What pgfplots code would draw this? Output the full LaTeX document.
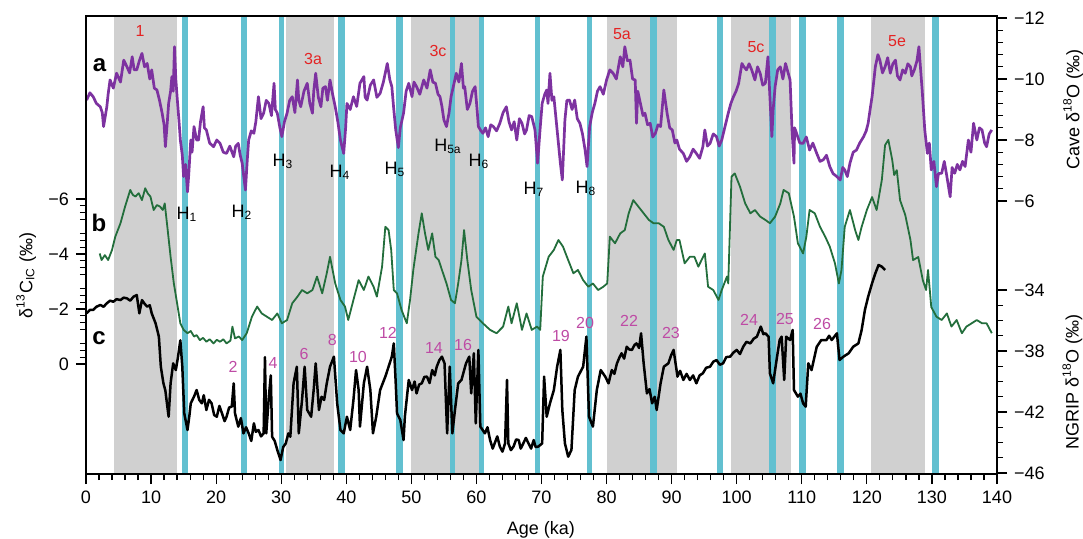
\documentclass[border=0pt]{standalone}
\usepackage{fontspec}
\setmainfont{Liberation Sans}
\usepackage{pgfplots}
\pgfplotsset{compat=1.18}
\definecolor{cavepurple}{RGB}{125,50,160}
\definecolor{cgreen}{RGB}{35,110,60}
\definecolor{bandgray}{RGB}{208,208,208}
\definecolor{barcyan}{RGB}{98,192,208}
\definecolor{lred}{RGB}{228,35,35}
\definecolor{lmag}{RGB}{190,75,165}
\begin{document}
\begin{tikzpicture}[font=\fontsize{9}{10}\selectfont]
\path[use as bounding box] (-43pt,-32pt) rectangle (498.5pt,237pt);
\pgfplotsset{every axis/.append style={width=455.5pt,height=228.5pt,scale only axis,
  xmin=0,xmax=140, tick align=outside, major tick length=5pt, minor tick length=3pt,
  /pgf/number format/assume math mode=true,
  every tick/.style={black,line width=0.6pt},
  axis line style={line width=0.7pt},
  ticklabel style={font=\fontsize{9}{10}\selectfont}}}
% ---------- base axis: bands, bars, x axis, labels
\begin{axis}[ymin=0,ymax=457, ytick=\empty, xtick={0,10,...,140}, minor x tick num=4,
  xtick pos=left, axis on top, clip=false]
\fill[bandgray] (axis cs:4.35,0) rectangle (axis cs:13.94,457);
\fill[bandgray] (axis cs:30.74,0) rectangle (axis cs:38.11,457);
\fill[bandgray] (axis cs:49.95,0) rectangle (axis cs:60.55,457);
\fill[bandgray] (axis cs:80.07,0) rectangle (axis cs:90.82,457);
\fill[bandgray] (axis cs:99.12,0) rectangle (axis cs:108.34,457);
\fill[bandgray] (axis cs:120.64,0) rectangle (axis cs:128.94,457);
\fill[barcyan] (axis cs:14.71,0) rectangle (axis cs:15.63,457);
\fill[barcyan] (axis cs:23.82,0) rectangle (axis cs:24.70,457);
\fill[barcyan] (axis cs:29.61,0) rectangle (axis cs:30.47,457);
\fill[barcyan] (axis cs:38.77,0) rectangle (axis cs:39.80,457);
\fill[barcyan] (axis cs:47.64,0) rectangle (axis cs:48.67,457);
\fill[barcyan] (axis cs:55.94,0) rectangle (axis cs:56.71,457);
\fill[barcyan] (axis cs:60.44,0) rectangle (axis cs:61.21,457);
\fill[barcyan] (axis cs:69.05,0) rectangle (axis cs:69.82,457);
\fill[barcyan] (axis cs:77.04,0) rectangle (axis cs:77.81,457);
\fill[barcyan] (axis cs:86.68,0) rectangle (axis cs:87.71,457);
\fill[barcyan] (axis cs:96.93,0) rectangle (axis cs:97.94,457);
\fill[barcyan] (axis cs:105.01,0) rectangle (axis cs:106.04,457);
\fill[barcyan] (axis cs:109.57,0) rectangle (axis cs:110.60,457);
\fill[barcyan] (axis cs:115.46,0) rectangle (axis cs:116.49,457);
\fill[barcyan] (axis cs:130.06,0) rectangle (axis cs:131.14,457);
% panel letters
\node[font=\fontsize{12}{12}\selectfont\bfseries] at (axis cs:2.1,408) {a};
\node[font=\fontsize{12}{12}\selectfont\bfseries] at (axis cs:2.0,251) {b};
\node[font=\fontsize{12}{12}\selectfont\bfseries] at (axis cs:2.0,136) {c};
% red labels
\begin{scope}[every node/.style={text=lred,font=\fontsize{8}{9}\selectfont}]
\node at (axis cs:8.30,442) {1};
\node at (axis cs:34.89,414) {3a};
\node at (axis cs:54.10,422) {3c};
\node at (axis cs:82.37,439) {5a};
\node at (axis cs:102.97,426) {5c};
\node at (axis cs:124.64,432) {5e};
\end{scope}
% Heinrich labels
\begin{scope}[every node/.style={font=\fontsize{9}{10}\selectfont,inner sep=0pt}]
\node at (axis cs:15.52,259) {H\textsubscript{1}};
\node at (axis cs:23.97,261) {H\textsubscript{2}};
\node at (axis cs:30.28,312) {H\textsubscript{3}};
\node at (axis cs:39.03,301) {H\textsubscript{4}};
\node at (axis cs:47.49,304) {H\textsubscript{5}};
\node at (axis cs:55.63,327) {H\textsubscript{5a}};
\node at (axis cs:60.40,312) {H\textsubscript{6}};
\node at (axis cs:68.85,284) {H\textsubscript{7}};
\node at (axis cs:76.84,285) {H\textsubscript{8}};
\end{scope}
% GI numbers
\begin{scope}[every node/.style={text=lmag,font=\fontsize{8}{9}\selectfont,inner sep=0pt}]
\node at (axis cs:22.59,107) {2};
\node at (axis cs:28.74,111) {4};
\node at (axis cs:33.50,120) {6};
\node at (axis cs:37.87,134) {8};
\node at (axis cs:41.80,117) {10};
\node at (axis cs:46.41,141) {12};
\node at (axis cs:53.48,126) {14};
\node at (axis cs:57.94,129) {16};
\node at (axis cs:72.99,138) {19};
\node at (axis cs:76.69,151) {20};
\node at (axis cs:83.45,153) {22};
\node at (axis cs:89.90,141) {23};
\node at (axis cs:101.89,154) {24};
\node at (axis cs:107.42,155) {25};
\node at (axis cs:113.11,150) {26};
\end{scope}
% axis titles
\begin{scope}[every node/.style={font=\fontsize{9}{10}\selectfont}]
\node at (axis cs:69.9,-56) {Age (ka)};
\node[rotate=90] at (axis cs:151.7,364) {Cave δ\textsuperscript{18}O (‰)};
\node[rotate=90] at (axis cs:151.6,92) {NGRIP δ\textsuperscript{18}O (‰)};
\node[rotate=90] at (axis cs:-9.2,198) {δ\textsuperscript{13}C\textsubscript{IC} (‰)};
\end{scope}
\end{axis}
% ---------- green: delta13C (left axis)
\begin{axis}[hide x axis, ymin=-12.618, ymax=4.0, y dir=reverse,
  ytick={-6,-4,-2,0}, yticklabels={−6,−4,−2,0},
  minor ytick={-5.75,-5.5,-5.25,-4.75,-4.5,-4.25,-3.75,-3.5,-3.25,-2.75,-2.5,-2.25,-1.75,-1.5,-1.25,-0.75,-0.5,-0.25},
  ytick pos=left]
\addplot[cgreen, line width=0.9pt, line join=round] coordinates {
(2.1,-4.02)(2.4,-3.78)(2.9,-3.96)(3.4,-3.78)(4.0,-4.15)(4.5,-4.63)(5.3,-5.12)(6.0,-5.72)(6.8,-6.33)(7.2,-6.15)
(7.6,-6.09)(8.1,-6.21)(8.6,-5.96)(9.1,-6.39)(9.5,-6.2)(9.9,-6.09)(10.4,-5.60)(10.9,-5.78)(11.4,-5.72)(11.8,-5.6)
(12.1,-5.84)(12.5,-4.99)(13.0,-3.90)(13.5,-2.93)(14.0,-2.21)(14.5,-1.48)(15.0,-1.24)(15.6,-1.12)(16.1,-1.2)(16.6,-1.00)
(17.0,-1.05)(17.5,-0.87)(18.0,-0.95)(18.5,-0.81)(19.0,-0.9)(19.6,-0.75)(20.1,-0.88)(20.6,-0.81)(21.1,-0.9)(21.6,-0.75)(22.2,-0.85)(22.5,-1.36)(22.9,-0.93)(23.5,-1.0)(24.0,-0.87)
(24.7,-1.12)(25.5,-1.72)(26.3,-2.09)(27.0,-1.84)(27.8,-1.72)(28.6,-1.60)(29.4,-1.84)(30.1,-1.48)(30.9,-1.60)
(31.7,-2.21)(32.5,-2.45)(33.2,-2.69)(34.0,-2.57)(34.8,-2.69)(35.5,-3.18)(36.3,-2.57)
(37.0,-3.30)(37.5,-3.90)(38.3,-2.93)(39.1,-2.33)(39.8,-2.09)(40.3,-1.60)(41.1,-2.33)(41.9,-3.05)(42.7,-2.69)
(43.4,-3.18)(44.2,-2.81)(44.7,-2.45)(45.5,-3.54)(46.0,-4.99)(46.5,-4.87)(46.9,-4.15)(47.3,-2.69)(47.8,-2.57)
(48.5,-1.96)(49.3,-1.48)(49.8,-2.33)(50.3,-3.42)(51.1,-4.75)(51.6,-5.48)(52.1,-4.75)(52.6,-4.15)(53.2,-4.75)
(53.7,-3.90)(54.2,-3.78)(54.7,-3.42)
(55.4,-2.93)(56.1,-2.33)(56.7,-2.21)(57.2,-2.93)(57.7,-3.78)(58.1,-4.87)(58.6,-3.78)(59.2,-2.69)(60.0,-1.72)
(61.0,-1.48)(62.1,-1.24)(63.1,-1.12)(64.1,-1.36)(64.9,-2.09)(65.4,-1.48)(66.2,-2.21)(67.0,-1.24)(67.7,-1.84)
(68.5,-1.24)(69.3,-1.36)(69.8,-1.24)(70.2,-3.18)(71.1,-3.90)(71.9,-4.15)(72.6,-4.51)
(73.3,-4.27)(74.1,-3.78)(74.9,-3.30)(75.6,-3.42)(76.4,-3.05)(77.2,-2.81)(77.9,-2.93)(78.7,-2.69)(79.5,-2.81)
(80.1,-2.93)(80.5,-4.63)(81.3,-4.39)(82.1,-4.75)(82.8,-4.87)(83.4,-5.48)(84.1,-5.96)(84.9,-5.72)(85.7,-5.48)
(86.5,-5.24)(87.2,-5.12)(88.0,-5.12)(88.8,-4.99)(89.5,-4.51)(90.3,-4.15)(90.8,-4.51)
(91.2,-4.51)(92.0,-3.66)(92.8,-3.90)(93.5,-3.90)(94.1,-3.54)(94.6,-3.78)(95.1,-4.02)(95.6,-2.81)(96.4,-2.69)
(97.2,-2.33)(97.7,-2.69)(98.5,-3.18)(98.7,-2.93)(99.2,-6.81)(99.7,-6.93)(100.5,-6.45)(101.3,-5.84)(102.1,-5.48)
(102.8,-5.60)(103.6,-5.36)(104.4,-5.24)(105.1,-5.12)(105.9,-5.36)(106.7,-5.84)(107.2,-6.33)(108.0,-6.21)(108.8,-5.36)
(109.4,-4.39)(110.2,-4.02)(110.7,-4.63)(111.2,-5.60)(112.0,-5.48)(112.8,-4.99)(113.6,-4.63)(114.3,-4.27)(115.1,-3.66)
(115.7,-2.93)(116.1,-3.42)(116.6,-4.99)(117.4,-5.60)(118.2,-4.87)(118.7,-4.51)(119.2,-4.99)(120.0,-5.60)(120.8,-6.07)
(121.5,-5.60)(122.3,-6.69)(122.8,-7.96)(123.3,-8.15)(123.9,-7.42)(124.2,-6.87)(124.6,-7.05)(125.1,-5.96)(125.9,-5.42)
(126.7,-4.51)(127.1,-3.78)(127.9,-3.89)(128.6,-3.05)(129.1,-2.69)(129.4,-3.42)(129.9,-2.07)(130.7,-1.72)(131.5,-1.60)
(132.3,-1.84)(133.0,-1.36)(133.8,-1.60)(134.6,-1.12)(135.3,-1.36)(136.1,-1.48)(136.9,-1.60)(137.7,-1.48)(138.4,-1.48)
(139.2,-1.12)};
\end{axis}
% ---------- purple: cave delta18O (right upper axis)
\begin{axis}[hide x axis, ymin=-12.033, ymax=2.951, y dir=reverse,
  ytick={-12,-10,-8,-6}, yticklabels={−12,−10,−8,−6},
  minor ytick={-11.6,-11.2,-10.8,-10.4,-9.6,-9.2,-8.8,-8.4,-7.6,-7.2,-6.8,-6.4},
  ytick pos=right, yticklabel pos=right]
\addplot[cavepurple, line width=1.35pt, line join=round] coordinates {
(0.1,-9.31)(0.6,-9.55)(1.1,-9.42)(1.6,-9.2)(2.2,-9.09)(2.5,-8.9)(2.7,-8.44)(2.9,-8.7)(3.2,-9.09)(3.4,-9.5)
(3.7,-9.97)(4.2,-9.7)(4.7,-10.19)(5.3,-9.9)(5.8,-10.62)(6.3,-10.40)(6.7,-10.2)(7.1,-10.73)(7.4,-10.3)(7.8,-10.30)
(8.2,-10.6)(8.6,-10.84)(9.0,-10.4)(9.4,-10.51)(9.8,-10.0)(10.1,-10.30)(10.5,-9.7)(10.9,-9.64)(11.3,-9.3)(11.7,-8.88)
(12.0,-8.5)(12.2,-7.78)(12.5,-8.6)(12.7,-9.20)(13.0,-9.6)(13.2,-10.08)(13.4,-9.6)(13.6,-11.06)(13.8,-10.0)(14.0,-9.42)
(14.3,-8.6)(14.5,-8.00)(14.8,-7.5)(15.0,-6.80)(15.3,-7.2)(15.6,-6.30)(15.8,-6.9)(16.1,-8.00)(16.3,-7.6)(16.6,-8.44)
(17.0,-8.0)(17.3,-8.00)(17.6,-8.6)(18.0,-9.09)(18.2,-8.4)(18.5,-8.33)(19.0,-7.9)(19.6,-7.78)(20.1,-8.0)(20.6,-7.89)
(21.1,-7.6)(21.6,-7.56)(22.1,-7.8)(22.7,-7.45)(23.0,-7.8)(23.4,-7.89)(23.7,-7.5)(24.0,-7.24)(24.5,-6.36)(24.8,-7.4)
(25.0,-8.00)(25.4,-8.3)(25.8,-8.22)(26.1,-8.6)(26.5,-9.42)(26.9,-8.7)(27.3,-8.88)(27.7,-9.3)(28.1,-9.20)(28.5,-8.8)
(28.9,-9.86)(29.1,-9.0)(29.4,-8.88)(29.8,-8.4)(30.1,-8.11)(30.5,-8.6)(30.9,-8.88)(31.3,-9.3)(31.7,-9.42)(32.1,-8.9)
(32.5,-9.97)(32.7,-9.3)(33.0,-9.09)(33.5,-9.6)(34.0,-9.86)(34.4,-9.2)(34.8,-8.88)(35.0,-9.6)(35.3,-10.19)(35.7,-9.4)
(36.1,-9.09)(36.4,-9.7)(36.8,-9.75)(37.1,-9.3)(37.5,-9.97)(37.9,-9.5)(38.3,-9.09)(38.7,-8.6)(39.1,-8.00)(39.6,-7.56)
(39.9,-8.4)(40.1,-9.20)(40.6,-9.0)(41.1,-9.42)(41.6,-9.1)(42.1,-9.86)(42.7,-10.08)(42.9,-9.4)(43.2,-9.31)(43.7,-9.8)
(44.2,-9.97)(44.7,-9.4)(45.2,-9.53)(45.7,-9.9)(46.3,-10.51)(46.7,-9.97)(47.0,-9.75)(47.3,-9.0)(47.6,-8.33)(48.0,-7.75)
(48.3,-8.4)(48.8,-8.88)(49.2,-9.6)(49.6,-9.86)(50.1,-9.42)(50.4,-9.9)(50.8,-9.75)(51.3,-9.5)(51.9,-9.97)(52.4,-9.7)
(52.9,-10.30)(53.3,-9.9)(53.7,-9.86)(54.1,-9.5)(54.4,-9.42)(54.7,-9.1)(55.0,-8.66)(55.4,-8.44)(55.8,-8.9)(56.1,-9.42)
(56.5,-9.8)(56.9,-10.19)(57.3,-9.9)(57.7,-10.51)(58.0,-9.7)(58.2,-9.75)(58.6,-9.0)(59.0,-9.20)(59.4,-9.6)(59.8,-9.75)
(60.1,-9.0)(60.3,-8.44)(60.7,-8.3)(61.0,-8.22)(61.4,-8.4)(61.8,-8.11)(62.2,-8.5)(62.6,-8.44)(63.1,-8.3)(63.6,-8.55)
(64.1,-8.9)(64.6,-9.09)(65.0,-8.6)(65.4,-8.33)(65.8,-8.6)(66.2,-8.00)(66.6,-8.7)(67.0,-8.55)(67.4,-8.2)(67.7,-8.33)
(68.1,-8.8)(68.5,-8.77)(69.0,-8.33)(69.4,-7.24)(69.8,-8.4)(70.1,-9.20)(70.5,-9.5)(70.8,-9.64)(71.0,-9.2)(71.3,-10.19)
(71.6,-9.3)(71.9,-9.42)(72.4,-8.33)(72.9,-7.24)(73.2,-6.69)(73.6,-8.66)(73.9,-9.3)(74.3,-9.31)(74.7,-9.0)(75.1,-9.31)
(75.5,-8.7)(75.9,-8.55)(76.3,-8.2)(76.7,-7.67)(77.0,-7.13)(77.4,-8.44)(77.8,-8.9)(78.2,-9.20)(78.6,-9.6)(79.0,-9.75)
(79.5,-9.5)(80.0,-9.97)(80.5,-10.3)(81.0,-10.19)(81.5,-10.0)(82.1,-10.73)(82.5,-10.4)(82.8,-11.06)(83.2,-10.6)(83.6,-10.62)
(84.0,-10.0)(84.4,-9.97)(84.6,-8.55)(84.8,-9.6)(85.2,-9.20)(85.6,-8.8)(85.9,-8.88)(86.3,-8.5)(86.7,-8.55)(87.1,-8.1)
(87.5,-8.22)(87.9,-8.5)(88.3,-8.44)(88.8,-9.64)(89.3,-8.88)(89.7,-8.4)(90.1,-8.33)(90.5,-7.9)(90.8,-8.00)(91.2,-7.7)
(91.8,-7.56)(92.3,-7.3)(92.8,-7.45)(93.3,-7.7)(93.8,-7.56)(94.3,-7.4)(94.8,-7.78)(95.1,-8.33)(95.5,-7.8)(95.9,-7.89)
(96.4,-8.2)(96.9,-8.11)(97.3,-7.8)(97.7,-8.00)(98.2,-8.44)(98.7,-8.88)(99.1,-9.2)(99.5,-9.42)(99.9,-9.6)(100.3,-9.86)
(100.8,-10.51)(101.1,-10.4)(101.5,-10.30)(101.9,-10.5)(102.3,-10.30)(102.8,-9.97)(103.2,-10.4)(103.6,-10.19)(104.0,-9.8)(104.4,-9.86)
(104.8,-10.73)(105.1,-9.42)(105.4,-8.11)(105.6,-9.0)(105.9,-9.75)(106.3,-10.3)(106.7,-10.40)(107.1,-10.0)(107.5,-10.51)(107.9,-10.2)
(108.2,-9.97)(108.5,-8.33)(108.8,-7.24)(108.9,-8.4)(109.2,-8.22)(109.7,-7.9)(110.2,-7.89)(110.7,-8.1)(111.2,-7.67)(111.7,-7.9)
(112.3,-7.56)(112.8,-7.3)(113.3,-7.35)(113.8,-7.5)(114.3,-7.13)(114.8,-6.9)(115.4,-6.80)(115.9,-6.69)(116.3,-7.1)(116.6,-7.02)
(117.0,-6.8)(117.4,-7.24)(117.9,-7.6)(118.4,-7.67)(118.9,-7.9)(119.5,-8.11)(119.9,-8.3)(120.2,-8.55)(120.5,-9.0)(120.8,-9.42)
(121.1,-10.0)(121.3,-10.40)(121.7,-10.8)(122.0,-10.62)(122.4,-10.2)(122.8,-10.40)(123.2,-10.7)(123.6,-10.19)(124.0,-10.5)(124.4,-10.62)
(124.7,-10.1)(125.1,-9.97)(125.5,-10.3)(125.9,-10.19)(126.3,-10.5)(126.7,-10.40)(126.9,-10.1)(127.3,-10.30)(127.7,-10.6)(128.0,-11.06)
(128.3,-10.2)(128.5,-9.64)(128.9,-8.33)(129.3,-7.56)(129.6,-7.9)(129.9,-7.02)(130.3,-7.3)(130.7,-6.47)(131.0,-6.9)(131.5,-6.91)
(131.9,-7.3)(132.3,-6.80)(132.8,-6.14)(133.1,-7.1)(133.5,-6.91)(133.9,-7.2)(134.3,-7.02)(134.7,-7.3)(135.1,-7.13)(135.6,-8.00)
(136.0,-7.6)(136.4,-8.55)(136.9,-8.00)(137.3,-8.4)(137.7,-8.33)(138.1,-7.9)(138.4,-7.78)(138.8,-8.2)(139.2,-8.33)};
\end{axis}
% ---------- black: NGRIP delta18O (right lower axis)
\begin{axis}[hide x axis, ymin=-46.066, ymax=-16.098,
  ytick={-34,-38,-42,-46}, yticklabels={−34,−38,−42,−46},
  minor ytick={-35,-36,-37,-39,-40,-41,-43,-44,-45},
  ytick pos=right, yticklabel pos=right]
\addplot[black, line width=1.25pt, line join=round] coordinates {
(0.1,-35.53)(0.6,-35.3)(1.1,-35.31)(1.6,-35.1)(2.2,-34.98)(2.7,-35.1)(3.2,-34.87)(3.7,-34.7)(4.2,-34.77)(4.7,-34.6)
(5.3,-34.66)(5.8,-34.5)(6.3,-34.55)(6.8,-34.7)(7.3,-34.44)(7.8,-34.33)(8.2,-35.53)(8.6,-34.66)(9.0,-34.9)(9.4,-35.09)
(9.8,-35.0)(10.1,-35.53)(10.7,-36.19)(11.2,-37.06)(11.5,-39.03)(11.9,-40.12)(12.2,-40.6)(12.5,-41.65)(12.7,-42.31)(13.0,-40.12)
(13.4,-38.81)(13.8,-39.25)(14.1,-38.5)(14.5,-37.3)(14.8,-39.03)(15.1,-42.09)(15.6,-43.18)(15.9,-42.2)(16.1,-41.43)(16.6,-40.99)
(17.0,-40.56)(17.4,-41.2)(17.8,-41.43)(18.1,-40.9)(18.5,-41.87)(18.9,-41.2)(19.3,-41.43)(19.7,-42.2)(20.1,-42.31)(20.5,-41.6)
(20.9,-42.09)(21.3,-42.6)(21.6,-42.31)(22.0,-41.7)(22.4,-41.65)(22.7,-40.12)(22.9,-42.09)(23.4,-42.96)(23.8,-42.4)(24.2,-43.40)
(24.6,-43.0)(25.0,-43.40)(25.4,-43.9)(25.8,-42.74)(26.1,-43.3)(26.5,-43.18)(26.9,-43.6)(27.3,-43.40)(27.5,-38.4)(27.7,-43.40)
(28.1,-41.0)(28.4,-39.6)(28.6,-43.62)(29.0,-43.9)(29.4,-44.49)(29.9,-45.15)(30.3,-44.3)(30.7,-44.06)(31.1,-43.4)(31.4,-43.62)
(31.9,-40.12)(32.4,-39.03)(32.7,-43.40)(33.2,-41.21)(33.6,-39.03)(34.0,-41.87)(34.6,-42.31)(35.0,-40.5)(35.3,-38.81)(35.8,-41.87)
(36.2,-41.0)(36.6,-41.21)(37.0,-40.12)(37.5,-39.03)(38.1,-38.37)(38.6,-41.43)(39.1,-43.18)(39.6,-43.40)(40.1,-42.31)(40.6,-43.18)
(41.1,-41.21)(41.5,-39.25)(41.9,-40.56)(42.1,-42.96)(42.7,-40.12)(43.2,-39.03)(43.7,-40.56)(44.1,-43.40)(44.6,-42.31)(45.2,-40.56)
(46.0,-39.68)(46.5,-39.03)(47.0,-38.37)(47.3,-37.50)(47.6,-40.12)(47.8,-42.09)(48.3,-42.52)(48.8,-43.84)(49.0,-42.31)(49.6,-39.90)
(50.1,-40.56)(50.5,-40.0)(50.8,-40.78)(51.2,-40.2)(51.6,-40.12)(52.0,-39.7)(52.4,-39.68)(52.8,-40.1)(53.2,-39.25)(53.6,-39.6)
(53.9,-39.03)(54.3,-38.6)(54.7,-38.37)(55.1,-38.81)(55.5,-43.40)(55.9,-39.03)(56.3,-43.40)(56.7,-41.87)(57.2,-40.12)(57.7,-39.90)
(58.4,-38.81)(58.9,-38.37)(59.2,-40.78)(59.6,-38.15)(59.9,-42.74)(60.3,-37.93)(60.6,-42.96)(61.3,-43.40)(61.7,-43.0)(62.1,-43.84)
(62.5,-44.4)(62.8,-44.06)(63.2,-43.6)(63.6,-44.27)(64.0,-44.6)(64.4,-44.06)(64.7,-39.90)(64.9,-44.06)(65.3,-44.5)(65.7,-44.27)
(66.1,-43.8)(66.5,-43.84)(66.8,-44.4)(67.2,-44.06)(67.6,-43.7)(68.0,-44.06)(68.4,-44.4)(68.8,-43.84)(69.1,-44.3)(69.5,-44.27)
(70.1,-44.06)(70.4,-39.68)(70.8,-42.31)(71.3,-41.43)(71.9,-40.56)(72.4,-39.03)(72.9,-37.93)(73.2,-41.87)(73.6,-44.06)(74.1,-44.93)
(74.6,-44.49)(75.1,-40.56)(75.6,-39.68)(76.4,-39.03)(76.9,-37.06)(77.3,-42.31)(77.9,-42.96)(78.5,-40.56)(79.1,-39.25)(79.8,-39.68)
(80.3,-40.12)(80.8,-39.25)(81.2,-39.5)(81.6,-38.81)(82.0,-38.4)(82.3,-38.15)(82.7,-38.5)(83.1,-37.72)(83.5,-37.9)(83.9,-37.93)
(84.3,-37.6)(84.6,-37.50)(85.0,-37.8)(85.3,-36.84)(85.7,-38.81)(86.2,-40.78)(86.6,-40.5)(87.0,-41.43)(87.4,-41.0)(87.7,-41.87)
(88.3,-40.12)(88.8,-39.03)(89.5,-38.81)(89.9,-38.3)(90.3,-37.93)(90.9,-39.68)(91.3,-39.3)(91.8,-39.90)(92.3,-39.5)(92.8,-39.90)
(93.3,-39.6)(93.8,-40.12)(94.3,-39.6)(94.8,-39.46)(95.3,-39.1)(95.9,-39.03)(96.4,-38.7)(96.9,-38.59)(97.4,-38.9)(97.9,-38.81)
(98.4,-38.4)(99.0,-38.37)(99.5,-38.1)(100.0,-37.93)(100.5,-38.2)(101.0,-37.72)(101.5,-37.4)(102.1,-37.50)(102.6,-37.2)(103.1,-37.06)
(103.7,-36.40)(104.1,-36.9)(104.4,-36.84)(104.9,-37.06)(105.1,-39.46)(105.6,-40.12)(106.2,-38.37)(106.6,-37.28)(106.9,-37.06)(107.3,-39.90)
(107.6,-37.06)(108.2,-37.28)(108.6,-36.62)(108.8,-40.56)(109.4,-40.99)(109.8,-40.8)(110.2,-41.43)(110.6,-41.65)(111.0,-38.81)(111.5,-39.25)
(112.3,-37.72)(113.0,-37.28)(113.8,-37.28)(114.2,-37.0)(114.6,-37.28)(115.4,-36.84)(115.8,-38.59)(116.4,-38.37)(117.2,-38.15)(117.9,-37.72)
(118.7,-37.50)(119.2,-36.62)(119.7,-35.31)(120.2,-34.44)(120.8,-33.56)(121.3,-32.91)(121.8,-32.36)(122.3,-32.47)(122.8,-32.69)};
\end{axis}
\end{tikzpicture}
\end{document}
